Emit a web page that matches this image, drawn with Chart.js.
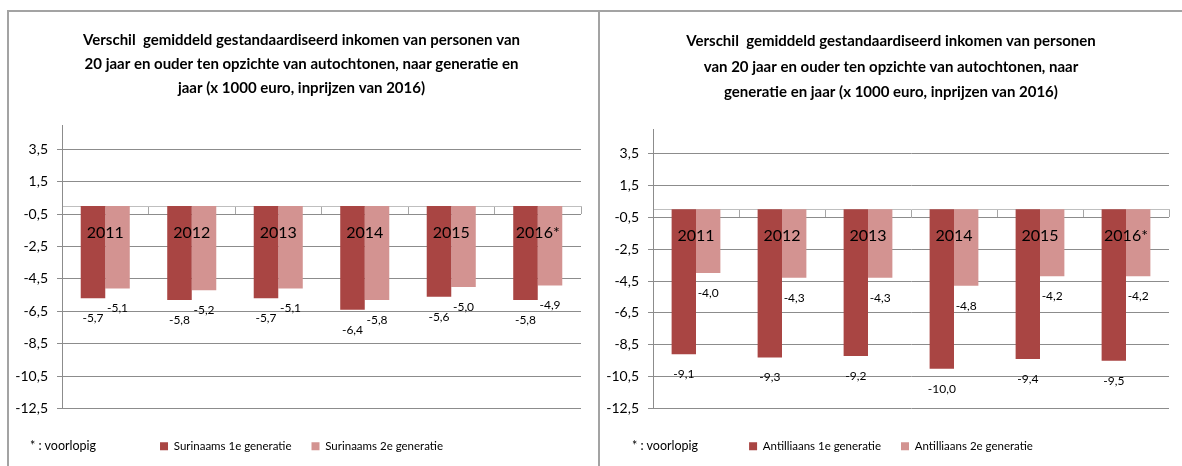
<!DOCTYPE html>
<html><head><meta charset="utf-8">
<script src="https://cdn.jsdelivr.net/npm/chart.js@4.4.1/dist/chart.umd.min.js"></script>
<style>
html,body{margin:0;padding:0;background:#fff;width:1182px;height:466px;overflow:hidden;}
.line{position:absolute;background:#a3a3a3;}
.panel{position:absolute;}
.note{position:absolute;font-family:Lato,"Liberation Sans",sans-serif;font-size:12.5px;color:#000;white-space:nowrap;}
</style></head><body>
<div class="line" style="left:7px;top:10px;width:1175px;height:2px"></div>
<div class="line" style="left:7px;top:10px;width:2px;height:456px"></div>
<div class="line" style="left:598px;top:10px;width:2px;height:456px"></div>
<div class="panel" style="left:9px;top:12px;width:589px;height:454px"><canvas id="c1"></canvas></div>
<div class="panel" style="left:600px;top:12px;width:582px;height:454px"><canvas id="c2"></canvas></div>
<div class="note" style="left:30px;top:438px">* : voorlopig</div>
<div class="note" style="left:632px;top:438px">* : voorlopig</div>
<script>
const years = ['2011', '2012', '2013', '2014', '2015', '2016*'];
const surinaams1 = [-5.7, -5.8, -5.7, -6.4, -5.6, -5.8];
const surinaams2 = [-5.1, -5.2, -5.1, -5.8, -5.0, -4.9];
const antilliaans1 = [-9.1, -9.3, -9.2, -10.0, -9.4, -9.5];
const antilliaans2 = [-4.0, -4.3, -4.3, -4.8, -4.2, -4.2];
const yTicks = [3.5, 1.5, -0.5, -2.5, -4.5, -6.5, -8.5, -10.5, -12.5];
const titleLeft = ['Verschil  gemiddeld gestandaardiseerd inkomen van personen van',
  '20 jaar en ouder ten opzichte van autochtonen, naar generatie en',
  'jaar (x 1000 euro, inprijzen van 2016)'];
const titleRight = ['Verschil  gemiddeld gestandaardiseerd inkomen van personen',
  'van 20 jaar en ouder ten opzichte van autochtonen, naar',
  'generatie en jaar (x 1000 euro, inprijzen van 2016)'];

const FONT = 'Lato, "Liberation Sans", sans-serif';
const DARK = '#a94543';
const LIGHT = '#d39391';
const fmt = v => v.toFixed(1).replace('.', ',');

const valueLabels = {
  id: 'valueLabels',
  afterDatasetsDraw(chart) {
    const ctx = chart.ctx;
    ctx.save();
    ctx.font = '12px ' + FONT;
    ctx.fillStyle = '#000';
    ctx.textAlign = 'center';
    ctx.textBaseline = 'middle';
    chart.data.datasets.forEach((ds, i) => {
      const meta = chart.getDatasetMeta(i);
      meta.data.forEach((el, j) => {
        ctx.fillText(fmt(ds.data[j]), el.x, el.y + 20);
      });
    });
    ctx.restore();
  }
};

function make(id, title, s1, s2, n1, n2, yWidth, padRight, rightGap, titlePadTop, titleLH) {
  return new Chart(document.getElementById(id), {
    type: 'bar',
    data: {
      labels: years,
      datasets: [
        {label: n1, data: s1, backgroundColor: DARK, categoryPercentage: 0.567, barPercentage: 1.0},
        {label: n2, data: s2, backgroundColor: LIGHT, categoryPercentage: 0.567, barPercentage: 1.0}
      ]
    },
    options: {
      responsive: true, maintainAspectRatio: false, animation: false,
      layout: {padding: {left: 0, right: padRight, top: 0, bottom: 4}},
      plugins: {
        title: {display: true, text: title, color: '#000',
          font: {family: FONT, size: 15, weight: 'bold', lineHeight: titleLH},
          padding: {top: titlePadTop, bottom: 25}},
        legend: {position: 'bottom',
          labels: {color: '#000', font: {family: FONT, size: 11.5}, boxWidth: 8, boxHeight: 8, padding: 20}},
        tooltip: {enabled: false}
      },
      scales: {
        x: {position: {y: 0}, offset: true,
          grid: {display: true, drawOnChartArea: false, drawTicks: true, tickLength: 7, color: '#a6a6a6', offset: true},
          border: {display: true, color: '#bfbfbf'},
          ticks: {color: '#000', font: {family: FONT, size: 16}, padding: 10, maxRotation: 0, z: 1}},
        x2: {position: 'bottom', display: true, grid: {display: false}, border: {display: false},
          ticks: {display: false}, afterFit(s) { s.height = 12; }},
        y: {min: -12.5, max: 5,
          afterBuildTicks(s) { s.ticks = yTicks.map(v => ({value: v})); },
          afterFit(s) { s.width = yWidth; },
          grid: {color: '#8c8c8c', drawTicks: true, tickLength: 5},
          border: {display: true, color: '#8c8c8c'},
          ticks: {color: '#000', font: {family: FONT, size: 14}, padding: 9, callback: v => fmt(v)}},
        y2: {position: 'right', display: true, grid: {display: false}, border: {display: false},
          ticks: {display: false}, afterFit(s) { s.width = rightGap; }}
      }
    },
    plugins: [valueLabels]
  });
}

make('c1', titleLeft, surinaams1, surinaams2, 'Surinaams 1e generatie', 'Surinaams 2e generatie', 53, 4, 13, 16, 1.6);
make('c2', titleRight, antilliaans1, antilliaans2, 'Antilliaans 1e generatie', 'Antilliaans 2e generatie', 53, 0, 13, 17, 1.68);
</script>
</body></html>
